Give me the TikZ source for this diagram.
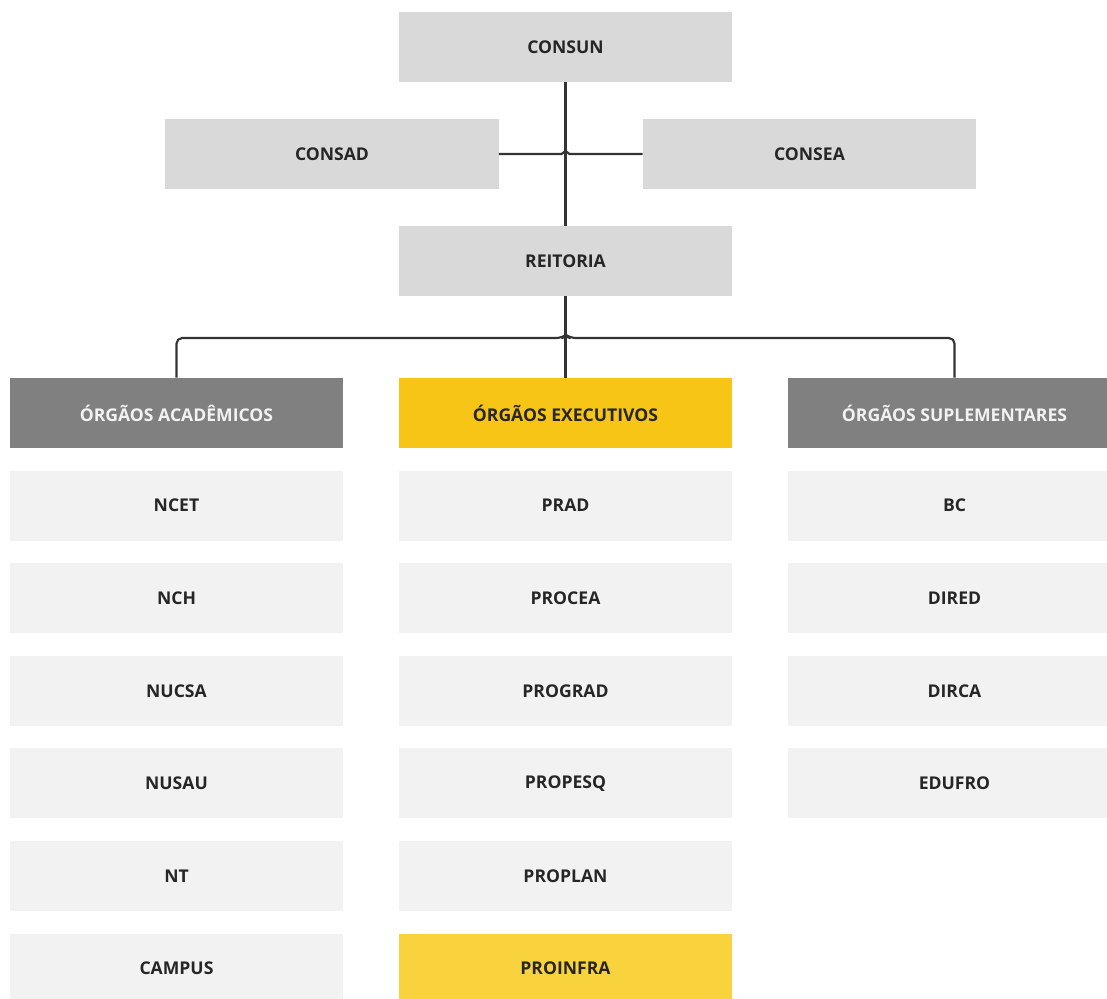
\documentclass[tikz,border=0pt]{standalone}
\usepackage{fontspec}
\setmainfont{Open Sans}
\usetikzlibrary{calc}
\definecolor{topgray}{HTML}{D9D9D9}
\definecolor{headgray}{HTML}{808080}
\definecolor{cellgray}{HTML}{F3F2F3}
\definecolor{execyel}{HTML}{F6C516}
\definecolor{infrayel}{HTML}{F9D33D}
\definecolor{inkdark}{HTML}{262626}
\definecolor{linedark}{HTML}{333333}
\tikzset{
  unit/.style={minimum width=8.325cm,minimum height=1.75cm,inner sep=0pt,
    font=\bfseries\fontsize{12.5}{14}\selectfont,text=inkdark},
  council/.style={unit,fill=topgray},
  header/.style={unit,fill=headgray,text=cellgray},
  cell/.style={unit,fill=cellgray},
  wire/.style={line width=1.5pt,draw=linedark}
}
\begin{document}
\begin{tikzpicture}[x=0.025cm,y=-0.025cm]
\useasboundingbox (0,0) rectangle (1107,999);
\node[council] (consun) at (565.5,47) {CONSUN}; % top council
\node[council] (consad) at (332,154) {CONSAD}; % left council
\node[council] (consea) at (809.5,154) {CONSEA}; % right council
\node[council] (reitoria) at (565.5,261) {REITORIA}; % rectorate
\node[header] (acad) at (176.5,413) {ÓRGÃOS ACADÊMICOS}; % column heads
\node[header,fill=execyel,text=inkdark] (exec) at (565.5,413) {ÓRGÃOS EXECUTIVOS};
\node[header] (supl) at (954.5,413) {ÓRGÃOS SUPLEMENTARES};
\foreach \name [count=\i] in {NCET,NCH,NUCSA,NUSAU,NT,CAMPUS}
  \node[cell] (acad\i) at (176.5,413+92.6*\i) {\name}; % academic units
\foreach \name [count=\i] in {PRAD,PROCEA,PROGRAD,PROPESQ,PROPLAN}
  \node[cell] (exec\i) at (565.5,413+92.6*\i) {\name}; % executive units
\node[cell,fill=infrayel] (exec6) at (565.5,968.6) {PROINFRA};
\foreach \name [count=\i] in {BC,DIRED,DIRCA,EDUFRO}
  \node[cell] (supl\i) at (954.5,413+92.6*\i) {\name}; % supplementary units
\coordinate (hop) at (consun.south |- consad.east); % crossing point
\coordinate (bar) at (566,338); % distribution bar
\draw[wire] (consun.south) -- (reitoria.north); % Wiring
\draw[wire] (consad.east) -- ($(hop)+(-4,0)$) -- ($(hop)+(0,-3)$) -- ($(hop)+(4,0)$) -- (consea.west); % Wiring
\draw[wire] (reitoria.south) -- (exec.north); % Wiring
\draw[wire,rounded corners=4pt] (acad.north) -- (acad.north |- bar) -- ($(bar)+(-4,0)$) -- ($(bar)+(0,-3)$) -- ($(bar)+(4,0)$) -- (supl.north |- bar) -- (supl.north); % Wiring
\end{tikzpicture}
\end{document}
